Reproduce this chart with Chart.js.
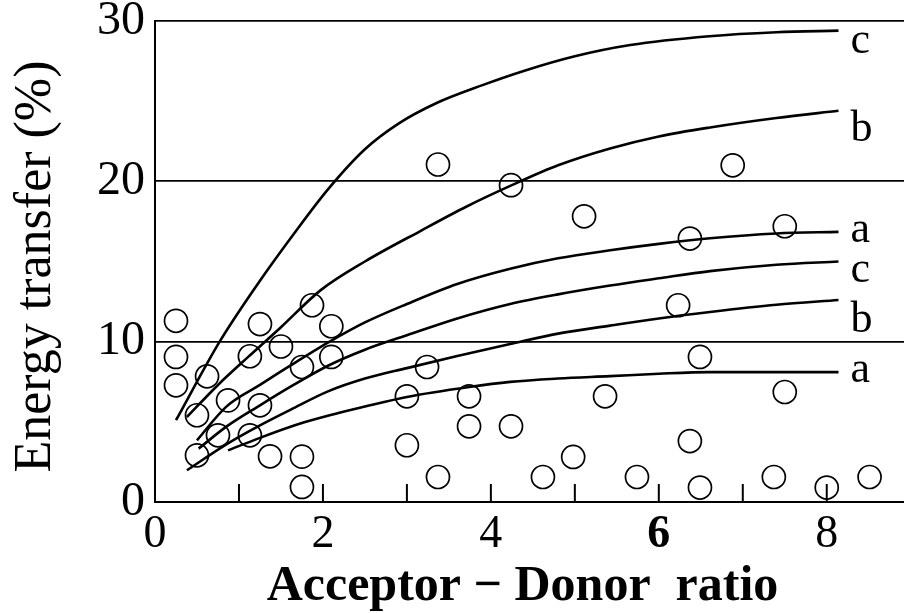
<!DOCTYPE html>
<html lang="en">
<head>
    <meta charset="UTF-8">
    <title>Energy transfer vs Acceptor - Donor ratio</title>
    <script src="https://cdn.jsdelivr.net/npm/chart.js"></script>
    <style>
        html, body { margin: 0; padding: 0; background: #fff; overflow: hidden; }
        #chart { display: block; }
    </style>
</head>
<body>
    <canvas id="chart" width="904" height="613"></canvas>

    <script>
        // Curves (upper set c, b, a then lower set c, b, a)
        const cUpperX = [0.25, 0.77, 1.25, 1.65, 2.06, 2.5, 2.9, 3.36, 3.9, 4.4, 5.0, 5.66, 6.6, 7.4, 8.14];
        const cUpperY = [5.1, 10.0, 13.8, 16.7, 19.5, 22.0, 23.6, 24.9, 26.0, 26.9, 27.8, 28.5, 29.05, 29.3, 29.4];

        const bUpperX = [0.38, 0.75, 1.11, 1.5, 1.97, 2.5, 3.16, 3.7, 4.25, 4.8, 5.42, 6.0, 6.61, 7.4, 8.14];
        const bUpperY = [5.3, 7.3, 9.05, 10.9, 13.2, 15.0, 16.9, 18.4, 19.76, 21.0, 22.05, 22.8, 23.36, 23.95, 24.4];

        const aUpperX = [0.5, 0.85, 1.25, 1.61, 2.08, 2.5, 3.0, 3.6, 4.23, 4.8, 5.42, 6.0, 6.61, 7.4, 8.14];
        const aUpperY = [3.85, 5.95, 7.3, 8.5, 10.0, 11.2, 12.35, 13.6, 14.55, 15.2, 15.7, 16.1, 16.45, 16.75, 16.85];

        const cLowerX = [0.52, 0.85, 1.25, 1.65, 2.06, 2.5, 3.0, 3.6, 4.23, 4.8, 5.42, 6.0, 6.61, 7.4, 8.14];
        const cLowerY = [3.33, 4.7, 6.03, 7.3, 8.5, 9.5, 10.4, 11.45, 12.35, 12.95, 13.5, 13.95, 14.4, 14.8, 15.0];

        const bLowerX = [0.38, 0.85, 1.25, 1.65, 2.06, 2.5, 3.0, 3.6, 4.23, 4.8, 5.42, 6.0, 6.61, 7.4, 8.14];
        const bLowerY = [1.98, 3.6, 4.78, 5.85, 6.9, 7.7, 8.35, 9.1, 9.85, 10.5, 11.0, 11.45, 11.85, 12.3, 12.6];

        const aLowerX = [0.87, 1.25, 1.73, 2.08, 2.5, 3.0, 3.74, 4.23, 4.8, 5.42, 6.0, 6.61, 7.4, 8.14];
        const aLowerY = [3.22, 4.0, 4.89, 5.41, 5.95, 6.55, 7.17, 7.49, 7.7, 7.85, 8.0, 8.1, 8.1, 8.1];

        const curveNames = ['c', 'b', 'a', 'c', 'b', 'a'];

        // Measured points (open circles)
        const pointsX = [0.25, 0.25, 0.25, 0.62, 0.5, 0.5, 0.75, 0.87, 1.13, 1.25, 1.25, 1.13, 1.37, 1.5,
                         1.75, 1.75, 1.75, 1.87, 2.1, 2.1, 3.0, 3.24, 3.74, 3.74, 4.24, 3.0, 3.37, 4.62,
                         4.98, 5.36, 3.37, 4.24, 5.11, 6.88, 6.37, 7.5, 6.23, 6.49, 7.5, 6.37, 5.74, 6.49,
                         7.37, 8.0, 8.51];
        const pointsY = [11.3, 9.05, 7.28, 7.84, 5.41, 2.91, 4.16, 6.34, 9.09, 11.1, 6.03, 4.16, 2.85, 9.7,
                         8.42, 2.83, 0.94, 12.27, 10.96, 9.05, 6.59, 8.42, 6.59, 4.72, 4.72, 3.54, 1.56, 1.56,
                         2.81, 6.59, 21.05, 19.76, 17.82, 21.0, 16.43, 17.2, 12.27, 9.05, 6.86, 3.8, 1.56, 0.9,
                         1.56, 0.9, 1.56];

        // Axis ticks
        const xTickValues = [0, 1, 2, 3, 4, 5, 6, 7, 8];
        const yTickValues = [0, 10, 20, 30];

        const serif = "'Liberation Serif', 'Times New Roman', serif";
        const curves = [
            [cUpperX, cUpperY], [bUpperX, bUpperY], [aUpperX, aUpperY],
            [cLowerX, cLowerY], [bLowerX, bLowerY], [aLowerX, aLowerY]
        ];
        // vertical nudge (px) of each letter below its curve end
        const labelNudge = [22, 30, 10, 20, 32, 10];

        const zip = (xs, ys) => xs.map((x, i) => ({ x: x, y: ys[i] }));

        const datasets = curves.map(c => ({
            data: zip(c[0], c[1]),
            showLine: true,
            borderColor: '#000',
            borderWidth: 2.6,
            pointRadius: 0,
            tension: 0.4,
            cubicInterpolationMode: 'monotone',
            fill: false
        }));
        datasets.push({
            data: zip(pointsX, pointsY),
            showLine: false,
            pointStyle: 'circle',
            pointRadius: 11.5,
            pointBorderWidth: 1.7,
            borderColor: '#000',
            backgroundColor: 'rgba(0,0,0,0)',
            clip: false
        });

        // inner tick marks, axis titles and curve letters
        const decorations = {
            id: 'decorations',
            afterDraw(chart) {
                const ctx = chart.ctx;
                const xs = chart.scales.x;
                const ys = chart.scales.y;
                const area = chart.chartArea;
                ctx.save();

                // tick marks pointing up into the plot
                ctx.strokeStyle = '#000';
                ctx.lineWidth = 2;
                xTickValues.forEach(v => {
                    if (v === 0) return;
                    const px = xs.getPixelForValue(v);
                    ctx.beginPath();
                    ctx.moveTo(px, area.bottom);
                    ctx.lineTo(px, area.bottom - 18);
                    ctx.stroke();
                });

                // curve letters
                ctx.fillStyle = '#000';
                ctx.font = '44px ' + serif;
                ctx.textAlign = 'left';
                ctx.textBaseline = 'alphabetic';
                curves.forEach((c, i) => {
                    const n = c[0].length - 1;
                    const px = xs.getPixelForValue(c[0][n]) + 12;
                    const py = ys.getPixelForValue(c[1][n]) + labelNudge[i];
                    ctx.fillText(curveNames[i], px, py);
                });

                // x title
                ctx.font = 'bold 50px ' + serif;
                ctx.textAlign = 'center';
                ctx.fillText('Acceptor \u2212 Donor  ratio', (area.left + area.right) / 2 - 7, 600);

                // y title
                ctx.translate(50, (area.top + area.bottom) / 2 + 5);
                ctx.rotate(-Math.PI / 2);
                ctx.font = '52px ' + serif;
                ctx.fillText('Energy transfer (%)', 0, 0);
                ctx.restore();
            }
        };

        new Chart(document.getElementById('chart'), {
            type: 'scatter',
            data: { datasets: datasets },
            options: {
                responsive: false,
                animation: false,
                layout: { autoPadding: false, padding: { top: 21, right: 0, bottom: 0, left: 0 } },
                plugins: {
                    legend: { display: false },
                    tooltip: { enabled: false }
                },
                scales: {
                    x: {
                        type: 'linear',
                        min: 0,
                        max: 8.92,
                        afterBuildTicks: s => { s.ticks = xTickValues.map(v => ({ value: v })); },
                        afterFit: s => {
                            s.height = 111;
                            s.paddingLeft = 0;
                            s.paddingRight = 0;
                        },
                        grid: { display: false, drawTicks: false },
                        border: { display: true, color: '#000', width: 2 },
                        ticks: {
                            color: '#000',
                            padding: 15,
                            autoSkip: false,
                            maxRotation: 0,
                            font: c => ({
                                family: serif,
                                size: 46,
                                lineHeight: 0.8,
                                weight: c.tick && c.tick.value === 6 ? 'bold' : 'normal'
                            }),
                            callback: v => (v % 2 === 0 ? String(v) : '')
                        }
                    },
                    y: {
                        min: 0,
                        max: 30,
                        afterBuildTicks: s => { s.ticks = yTickValues.map(v => ({ value: v })); },
                        afterFit: s => {
                            s.width = 155;
                            s.paddingTop = 0;
                            s.paddingBottom = 0;
                        },
                        grid: { color: '#000', lineWidth: 1.8, drawTicks: false },
                        border: { display: true, color: '#000', width: 2 },
                        ticks: {
                            color: '#000',
                            padding: 10,
                            font: { family: serif, size: 48, lineHeight: 0.8 }
                        }
                    }
                }
            },
            plugins: [decorations]
        });
    </script>
</body>
</html>
